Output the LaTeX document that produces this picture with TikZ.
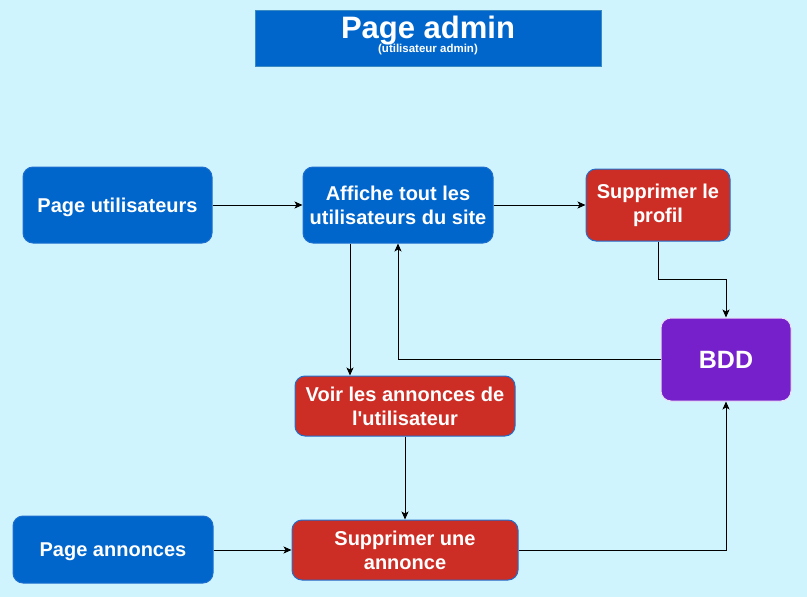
\documentclass[tikz,border=0pt]{standalone}
\usepackage{fontspec}
\setmainfont{Liberation Sans}[Ligatures=TeXOff]
\usetikzlibrary{arrows.meta}
\definecolor{bg}{HTML}{D0F4FD}
\definecolor{bluefill}{HTML}{0066CC}
\definecolor{blueline}{HTML}{1F6FCF}
\definecolor{titleline}{HTML}{3A8AC4}
\definecolor{redfill}{HTML}{CC2E26}
\definecolor{purplefill}{HTML}{7620CC}
\begin{document}
\begin{tikzpicture}[x=1pt,y=-1pt,
  box/.style={rounded corners=10pt, text=white, align=center, inner sep=0pt,
    line width=1pt, font=\bfseries\fontsize{20}{24}\selectfont},
  bluebox/.style={box, fill=bluefill, draw=blueline},
  redbox/.style={box, fill=redfill, draw=blueline},
  purplebox/.style={box, fill=purplefill, draw=white!85!purplefill, font=\bfseries\fontsize{25}{28}\selectfont},
  oneline/.style={text depth=0pt},
  link/.style={-{Stealth[length=8pt,width=7pt,inset=2pt]}, line width=0.9pt, draw=black}]
\path[fill=bg] (0,0) rectangle (807,597);
\useasboundingbox (0,0) rectangle (807,597);
% title
\node[fill=bluefill, draw=titleline, line width=1pt, minimum width=346pt, minimum height=56pt, inner sep=0pt] (title) at (428,38) {};
\node[text=white, font=\bfseries\fontsize{31}{33}\selectfont, inner sep=0pt, anchor=base] (tmain) at (428,38.5) {Page admin};
\node[text=white, font=\bfseries\fontsize{11.5}{13}\selectfont, inner sep=0pt, anchor=base] (tsub) at (428,52.5) {(utilisateur admin)};
% boxes
\node[bluebox, oneline, minimum width=189pt, minimum height=76pt] (pu) at (117.5,205) {Page utilisateurs};
\node[bluebox, minimum width=190pt, minimum height=76pt] (aff) at (398,205) {Affiche tout les\\utilisateurs du site};
\node[redbox, minimum width=144pt, minimum height=72pt] (sp) at (658,205) {Supprimer le\\profil};
\node[purplebox, oneline, minimum width=130pt, minimum height=83pt] (bdd) at (726,359.5) {BDD};
\node[redbox, minimum width=220pt, minimum height=60pt] (voir) at (405,406) {Voir les annonces de\\l'utilisateur};
\node[bluebox, oneline, minimum width=200pt, minimum height=67pt] (pa) at (113,549.5) {Page annonces};
\node[redbox, minimum width=226pt, minimum height=60pt] (sa) at (405,550) {Supprimer une\\annonce};
% links
\draw[link] (pu.east) -- (aff.west);
\draw[link] (aff.east) -- (sp.west);
\draw[link] (sp.south) -- ++(0,38) -| (bdd.north);
\draw[link] (bdd.west) -| (aff.south);
\draw[link] ([xshift=-48pt]aff.south) -- ([xshift=-48pt]aff.south |- voir.north);
\draw[link] (voir.south) -- (sa.north);
\draw[link] (pa.east |- sa.west) -- (sa.west);
\draw[link] (sa.east) -| (bdd.south);
\end{tikzpicture}
\end{document}
